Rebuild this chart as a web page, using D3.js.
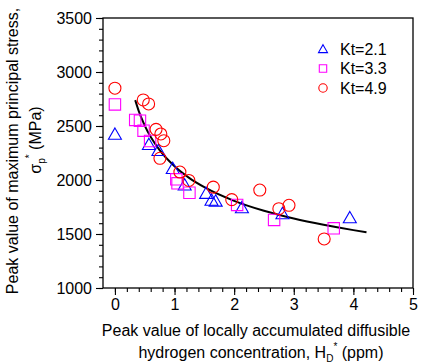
<!DOCTYPE html>
<html><head><meta charset="utf-8">
<script src="https://cdn.jsdelivr.net/npm/d3@7"></script>
<style>body{margin:0;background:#fff}svg{display:block}text{font-family:"Liberation Sans",Arial,sans-serif;fill:#000}</style>
</head><body><svg id="c" width="422" height="364"></svg>
<script>
const xTicks = [0, 1, 2, 3, 4, 5];
const yTicks = [1000, 1500, 2000, 2500, 3000, 3500];
const seriesNames = ["Kt=2.1", "Kt=3.3", "Kt=4.9"];
const kt21X = [0, 0.57, 0.73, 0.97, 1.17, 1.53, 1.62, 1.69, 2.13, 2.81, 3.94];
const kt21Y = [2425, 2330, 2275, 2108, 1955, 1878, 1815, 1806, 1745, 1690, 1652];
const kt33X = [0, 0.34, 0.42, 0.48, 0.59, 1.03, 1.05, 1.25, 2.05, 2.67, 3.67];
const kt33Y = [2700, 2556, 2549, 2457, 2361, 2006, 1969, 1882, 1769, 1630, 1553];
const kt49X = [0, 0.475, 0.565, 0.69, 0.77, 0.82, 0.755, 1.09, 1.24, 1.65, 1.96, 2.43, 2.75, 2.92, 3.51];
const kt49Y = [2850, 2741, 2704, 2469, 2426, 2364, 2201, 2074, 1996, 1934, 1818, 1907, 1734, 1766, 1454];
const fitX = [0.34, 0.4, 0.5, 0.75, 1, 1.25, 1.5, 2, 2.5, 3, 3.5, 4, 4.22];
const fitY = [2740, 2638, 2504, 2276, 2127, 2018, 1934, 1807, 1715, 1643, 1585, 1536, 1517];

const svg = d3.select("#c");
const L = 103, R = 413, T = 18, B = 288;
const x = d3.scaleLinear().domain([-0.2, 5]).range([L, R]);
const y = d3.scaleLinear().domain([1000, 3500]).range([B, T]);

// frame
svg.append("rect").attr("x", L).attr("y", T).attr("width", R - L).attr("height", B - T)
  .attr("fill", "none").attr("stroke", "#000").attr("stroke-width", 1.3);

// axes
const xMinor = d3.range(0, 5.001, 0.2);
const gx = svg.append("g").attr("transform", `translate(0,${B})`);
gx.call(d3.axisBottom(x).tickValues(xMinor).tickSize(4).tickFormat(""));
gx.append("g").call(d3.axisBottom(x).tickValues(xTicks).tickSize(7).tickPadding(4).tickFormat(d3.format("d")));
gx.selectAll(".domain").remove();
gx.selectAll("line").attr("stroke", "#000").attr("stroke-width", 1.1);
gx.selectAll("text").attr("font-size", 16).attr("font-family", "Liberation Sans, Arial, sans-serif").attr("fill", "#000");

const yMinor = d3.range(1000, 3500.1, 100);
const gy = svg.append("g").attr("transform", `translate(${L},0)`);
gy.call(d3.axisLeft(y).tickValues(yMinor).tickSize(4).tickFormat(""));
gy.append("g").call(d3.axisLeft(y).tickValues(yTicks).tickSize(7).tickPadding(4).tickFormat(d3.format("d")));
gy.selectAll(".domain").remove();
gy.selectAll("line").attr("stroke", "#000").attr("stroke-width", 1.1);
gy.selectAll("text").attr("font-size", 16).attr("font-family", "Liberation Sans, Arial, sans-serif").attr("fill", "#000");

// fit line
svg.append("path").datum(fitX.map((v, i) => [v, fitY[i]]))
  .attr("d", d3.line().x(d => x(d[0])).y(d => y(d[1])).curve(d3.curveMonotoneX))
  .attr("fill", "none").attr("stroke", "#000").attr("stroke-width", 2);

// markers
function tri(s) { return `M0,${-s * 0.95}L${s},${s * 0.8}L${-s},${s * 0.8}Z`; }
function sq(s) { return `M${-s},${-s}H${s}V${s}H${-s}Z`; }
function drawSeries(xs, ys, color, kind) {
  const g = svg.append("g");
  xs.forEach((v, i) => {
    const cx = x(v), cy = y(ys[i]);
    if (kind === "c") g.append("circle").attr("cx", cx).attr("cy", cy).attr("r", 6)
      .attr("fill", "none").attr("stroke", color).attr("stroke-width", 1.1);
    else g.append("path").attr("d", kind === "t" ? tri(6.5) : sq(5.7))
      .attr("transform", `translate(${cx},${cy})`)
      .attr("fill", "none").attr("stroke", color).attr("stroke-width", 1.1);
  });
}
drawSeries(kt21X, kt21Y, "#0000ff", "t");
drawSeries(kt33X, kt33Y, "#ff00ff", "s");
drawSeries(kt49X, kt49Y, "#ff0000", "c");

// legend
const legColors = ["#0000ff", "#ff00ff", "#ff0000"];
const legKinds = ["t", "s", "c"];
seriesNames.forEach((n, i) => {
  const ly = 49 + i * 19.5;
  if (legKinds[i] === "c") svg.append("circle").attr("cx", 323).attr("cy", ly).attr("r", 4.2)
    .attr("fill", "none").attr("stroke", legColors[i]).attr("stroke-width", 1.1);
  else svg.append("path").attr("d", legKinds[i] === "t" ? tri(4.5) : sq(3.7))
    .attr("transform", `translate(323,${ly})`).attr("fill", "none").attr("stroke", legColors[i]).attr("stroke-width", 1.1);
  svg.append("text").attr("x", 340).attr("y", ly + 5.5).attr("font-size", 16).text(n);
});

// x title
const xt = svg.append("text").attr("text-anchor", "middle").attr("font-size", 16);
xt.append("tspan").attr("x", 256).attr("y", 336).text("Peak value of locally accumulated diffusible");
const xt2 = svg.append("text").attr("text-anchor", "middle").attr("font-size", 16).attr("x", 261).attr("y", 358);
xt2.append("tspan").text("hydrogen concentration, H");
xt2.append("tspan").attr("font-size", 10).attr("dy", 4).text("D");
xt2.append("tspan").attr("font-size", 10).attr("dy", -12).text("*");
xt2.append("tspan").attr("dy", 8).text(" (ppm)");

// y title
const yt = svg.append("text").attr("text-anchor", "middle").attr("font-size", 16)
  .attr("transform", "translate(18,151) rotate(-90)").text("Peak value of maximum principal stress,");
const yt2 = svg.append("text").attr("text-anchor", "middle").attr("font-size", 16)
  .attr("transform", "translate(41,140) rotate(-90)");
yt2.append("tspan").text("σ");
yt2.append("tspan").attr("font-size", 10).attr("dy", 4).text("p");
yt2.append("tspan").attr("font-size", 10).attr("dy", -12).text("*");
yt2.append("tspan").attr("dy", 8).text(" (MPa)");
</script></body></html>
